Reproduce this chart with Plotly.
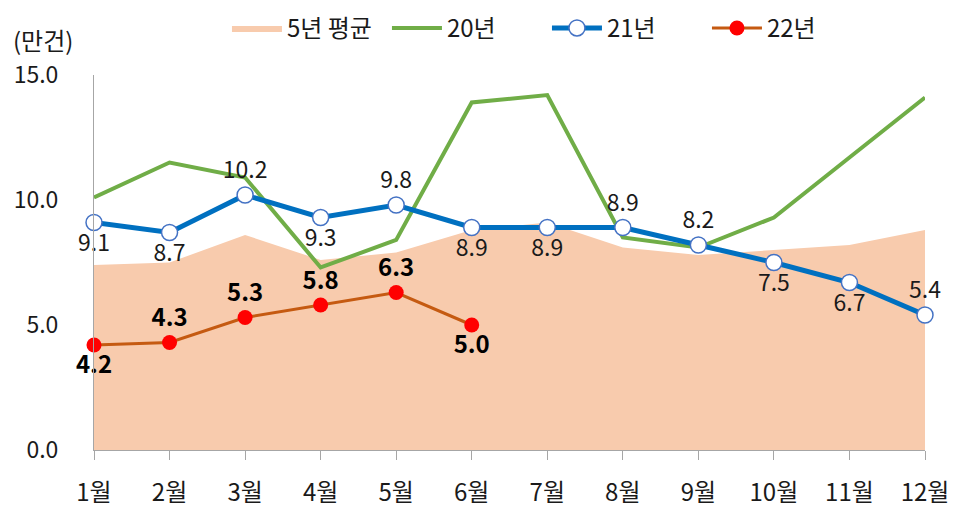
import plotly.graph_objects as go

months = ["1월", "2월", "3월", "4월", "5월", "6월", "7월", "8월", "9월", "10월", "11월", "12월"]
avg5 = [7.4, 7.5, 8.6, 7.6, 7.9, 8.8, 9.1, 8.1, 7.8, 8.0, 8.2, 8.8]
y20 = [10.1, 11.5, 10.9, 7.3, 8.4, 13.9, 14.2, 8.5, 8.1, 9.3, 11.7, 14.1]
y21 = [9.1, 8.7, 10.2, 9.3, 9.8, 8.9, 8.9, 8.9, 8.2, 7.5, 6.7, 5.4]
y22 = [4.2, 4.3, 5.3, 5.8, 6.3, 5.0]
pos21 = ["bottom center", "bottom center", "top center", "bottom center", "top center",
         "bottom center", "bottom center", "top center", "top center", "bottom center",
         "bottom center", "top center"]
pos22 = ["bottom center", "top center", "top center", "top center", "top center", "bottom center"]
yticks = [0, 5, 10, 15]

FONT = "Noto Sans CJK KR"
C_AREA = "#F8CBAD"
C_20 = "#70AD47"
C_21 = "#0070C0"
C_22 = "#C55A11"
C_AXIS = "#A6A6A6"

fig = go.Figure()
fig.add_trace(go.Scatter(x=months, y=avg5, name="5년 평균", mode="lines",
                         fill="tozeroy", fillcolor=C_AREA, line=dict(width=0, color=C_AREA)))
fig.add_trace(go.Scatter(x=months, y=y20, name="20년", mode="lines",
                         line=dict(color=C_20, width=4)))
fig.add_trace(go.Scatter(x=months, y=y21, name="21년", mode="lines+markers+text",
                         line=dict(color=C_21, width=5), cliponaxis=False,
                         marker=dict(size=16, color="white", line=dict(color="#4472C4", width=1.5)),
                         text=[f"{v:.1f}" for v in y21], textposition=pos21,
                         textfont=dict(size=23, color="#1a1a1a", family=FONT)))
fig.add_trace(go.Scatter(x=months[:len(y22)], y=y22, name="22년", mode="lines+markers+text",
                         line=dict(color=C_22, width=3), cliponaxis=False,
                         marker=dict(size=15, color="#FF0000"),
                         text=[f"<b>{v:.1f}</b>" for v in y22], textposition=pos22,
                         textfont=dict(size=24, color="#000000", family=FONT)))

# page body adds an 8px margin, so the figure is shifted by 8px
fig.add_annotation(text="(만건)", xref="paper", yref="paper", x=-0.1, y=1.095,
                   xanchor="left", yanchor="middle", showarrow=False,
                   font=dict(size=24, color="#1a1a1a", family=FONT))

fig.update_layout(
    width=952, height=509,
    margin=dict(l=86, r=35, t=67, b=67),
    paper_bgcolor="white", plot_bgcolor="white",
    font=dict(family=FONT, size=22, color="#1a1a1a"),
    showlegend=True,
    legend=dict(orientation="h", xref="container", yref="container",
                x=0.23, xanchor="left", y=0.96, yanchor="middle",
                font=dict(size=24), itemwidth=50, entrywidth=95,
                bgcolor="rgba(0,0,0,0)"),
    xaxis=dict(type="category", range=[0, len(months) - 1], showgrid=False,
               automargin=False,
               showline=True, linecolor=C_AXIS, linewidth=1,
               ticks="outside", ticklen=9, tickcolor=C_AXIS, tickson="labels",
               ticklabelstandoff=12, tickfont=dict(size=24)),
    yaxis=dict(range=[0, 15], tickvals=yticks, ticktext=[f"{v:.1f}" for v in yticks],
               automargin=False,
               showgrid=False, zeroline=False, showline=True, linecolor=C_AXIS, linewidth=1,
               ticks="", ticklabelstandoff=30, tickfont=dict(size=23)),
)

fig.write_html("out.html")
